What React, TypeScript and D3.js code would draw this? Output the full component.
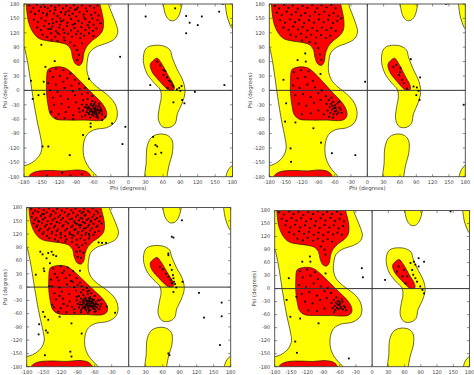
import React from 'react';
import * as d3 from 'd3';

type P = [number, number];

const tickValues = [-180, -150, -120, -90, -60, -30, 0, 30, 60, 90, 120, 150, 180];
const xLabel = 'Phi (degrees)';
const yLabel = 'Psi (degrees)';

// Allowed (yellow) regions, in (phi, psi) degrees
const yellowMain: P[] = [
  [-195, 195], [-33, 195], [-34, 180], [-28, 160], [-21, 138], [-18, 122], [-23, 108], [-36, 99], [-56, 90],
  [-67, 78], [-71, 58], [-71, 38], [-66, 22], [-55, 8], [-44, -2], [-32, -14], [-23, -28], [-19, -44], [-20, -59],
  [-26, -70], [-38, -78], [-58, -82], [-71, -92], [-77, -110], [-77, -136], [-71, -155], [-63, -168], [-54, -180],
  [-52, -195], [-195, -195], [-192, -160], [-176, -156], [-164, -149], [-154, -137], [-149, -120], [-151, -100],
  [-157, -66], [-161, -40], [-166, -3], [-170, 30], [-176, 72], [-181, 92], [-195, 100]
];
const yellowLeftHanded: P[] = [
  [29, 84], [26, 62], [32, 36], [45, 15], [55, 2], [57, -14], [54, -34], [52, -60], [59, -76], [72, -77], [81, -69],
  [85, -48], [93, -27], [98, -4], [95, 18], [84, 45], [76, 68], [72, 84], [62, 92], [48, 94], [35, 91]
];
const yellowTopRight: P[] = [
  [60, 195], [61, 175], [65, 156], [72, 146], [80, 146], [87, 155], [92, 175], [94, 195]
];
const yellowBottomRight: P[] = [
  [31, -195], [31, -150], [33, -115], [41, -97], [55, -91], [68, -94], [76, -105], [76, -132], [71, -153], [67, -180], [67, -195]
];
const yellowEdgeTop: P[] = [
  [167, 195], [168, 175], [170, 158], [174, 142], [180, 128], [192, 122], [198, 195]
];
const yellowEdgeBottom: P[] = [
  [168, -195], [169, -178], [173, -165], [180, -156], [192, -150], [198, -195]
];

// Core (red) regions
const redBeta: P[] = [
  [-177, 195], [-176, 180], [-175, 164], [-172, 142], [-165, 122], [-154, 108], [-138, 103], [-120, 100], [-106, 95],
  [-99, 85], [-96, 68], [-91, 55], [-84, 52], [-79, 60], [-77, 76], [-72, 91], [-62, 104], [-51, 114], [-44, 126],
  [-43, 146], [-46, 165], [-49, 180], [-50, 195]
];
const redBetaBottom: P[] = [
  [-173, -195], [-171, -178], [-161, -170], [-140, -167], [-110, -168], [-86, -166], [-71, -170], [-64, -180], [-63, -195]
];
const redAlpha: P[] = [
  [-138, 44], [-123, 49], [-108, 46], [-97, 36], [-77, 12], [-60, -9], [-46, -26], [-38, -43], [-38, -55], [-45, -62],
  [-77, -62], [-105, -62], [-125, -60], [-134, -51], [-138, -34], [-141, -6], [-141, 21], [-140, 38]
];
const redLeftHanded: P[] = [
  [38, 54], [42, 61], [50, 67], [57, 57], [70, 29], [78, 12], [79, 2], [70, 1], [55, 18], [41, 39]
];

// Residues, panel 1 (top left)
const residues1: P[] = [
  [-171, 177], [-164, 172], [-158, 178], [-151, 174], [-146, 179], [-139, 171], [-133, 176], [-126, 173], [-120, 178], [-113, 171],
  [-107, 176], [-100, 172], [-94, 178], [-87, 173], [-80, 177], [-73, 171], [-66, 176], [-59, 172], [-53, 177],
  [-168, 164], [-161, 159], [-154, 166], [-147, 161], [-141, 156], [-135, 165], [-128, 160], [-122, 155], [-116, 163], [-109, 158],
  [-103, 166], [-96, 160], [-90, 154], [-84, 163], [-77, 158], [-71, 165], [-64, 157], [-57, 162], [-51, 156],
  [-163, 147], [-156, 142], [-150, 150], [-143, 145], [-137, 139], [-131, 148], [-124, 143], [-118, 137], [-112, 146], [-105, 141],
  [-99, 149], [-92, 139], [-86, 145], [-80, 140], [-74, 148], [-67, 142], [-60, 137], [-53, 146], [-48, 140],
  [-157, 131], [-151, 126], [-145, 134], [-138, 128], [-131, 133], [-125, 124], [-119, 131], [-112, 127], [-106, 134], [-99, 125],
  [-93, 130], [-87, 123], [-81, 132], [-74, 126], [-68, 131], [-61, 124], [-55, 129],
  [-148, 116], [-140, 111], [-133, 119], [-126, 112], [-119, 117], [-111, 110], [-104, 118], [-97, 112], [-90, 117], [-83, 109],
  [-76, 114], [-68, 119], [-60, 113], [-132, 105], [-122, 103], [-110, 104], [-100, 100], [-93, 93], [-88, 84], [-85, 74],
  [-88, 63], [-80, 98], [-126, 168], [-118, 150], [-108, 163], [-96, 137], [-89, 170], [-76, 152], [-140, 160], [-110, 120],
  [-130, 140], [-82, 118], [-144, 174], [-116, 144], [-102, 156], [-92, 168], [-70, 136], [-62, 150], [-134, 128], [-122, 120],
  [-135, 40], [-125, 45], [-112, 42], [-100, 35], [-130, 28], [-118, 30], [-105, 25], [-92, 22], [-138, 15], [-125, 12],
  [-112, 18], [-98, 10], [-85, 14], [-135, 0], [-122, -3], [-110, 5], [-96, -2], [-84, 3], [-75, 5], [-130, -15],
  [-117, -12], [-104, -18], [-92, -10], [-80, -8], [-70, -5], [-62, -12], [-128, -30], [-115, -28], [-103, -35], [-90, -25],
  [-78, -20], [-133, -45], [-120, -50], [-108, -45], [-95, -52], [-85, -38], [-125, -57], [-110, -58], [-95, -60], [-80, -55],
  [-72, -30], [-68, -35], [-64, -28], [-60, -38], [-56, -32], [-52, -42], [-48, -36], [-66, -44], [-62, -48], [-58, -45],
  [-54, -50], [-50, -47], [-70, -40], [-64, -40], [-58, -40], [-53, -38], [-46, -44], [-60, -53], [-55, -55], [-68, -50],
  [-72, -45], [-75, -35], [-62, -22], [-57, -25], [-50, -28], [-45, -50], [-66, -57], [-74, -52], [-78, -42], [-80, -30],
  [-70, -18], [-84, -45], [-52, -58], [-47, -40], [-61, -33], [-67, -38], [-55, -46], [-59, -29], [-63, -43], [-57, -36],
  [-65, -31], [-61, -45], [-56, -41], [-51, -33], [-69, -47], [-63, -51], [-58, -49], [-53, -53], [-49, -42], [-71, -36],
  [-168, 20], [-165, -18], [-155, -10], [-145, -8], [-127, 61], [-143, 49], [-146, 18], [-150, 95], [-65, -69], [-65, -76],
  [-45, -62], [-68, 24], [-28, -69], [-78, -93], [-101, -135], [-138, -117], [-148, -117], [-40, -55],
  [-140, -178], [-114, -172], [-100, -177], [-80, -175],
  [30, 154], [81, 171], [100, 155], [106, 141], [127, 154], [120, 136], [100, 119], [157, 164], [163, 180], [180, 136],
  [166, 11], [38, 11], [-14, 70], [-5, -76], [-10, -112], [92, 9], [90, -1], [93, -20], [97, -27], [78, -25], [115, -3],
  [50, 60], [55, 52], [61, 42], [64, 40], [61, 32], [67, 27], [73, 18], [75, 12], [70, 20], [78, 8], [68, 5], [84, 2], [88, 5],
  [43, -97], [47, -114], [50, -117], [47, -133], [57, -130]
];

// Residues, panel 2 (top right)
const residues2: P[] = [
  [-170, 176], [-162, 171], [-153, 178], [-145, 172], [-137, 177], [-128, 170], [-119, 176], [-110, 172], [-101, 178], [-92, 171],
  [-84, 177], [-75, 173], [-66, 178], [-58, 171],
  [-166, 162], [-157, 157], [-148, 164], [-139, 158], [-131, 163], [-122, 156], [-114, 161], [-105, 155], [-96, 163], [-88, 158],
  [-79, 164], [-70, 156], [-62, 161], [-54, 155],
  [-160, 146], [-151, 141], [-142, 148], [-133, 142], [-125, 147], [-116, 140], [-107, 146], [-98, 141], [-89, 148], [-80, 142],
  [-72, 147], [-63, 140], [-55, 145], [-48, 150],
  [-154, 131], [-145, 126], [-136, 133], [-127, 127], [-119, 132], [-110, 125], [-101, 130], [-92, 124], [-83, 131], [-75, 126],
  [-66, 130], [-58, 124],
  [-141, 116], [-131, 112], [-122, 118], [-112, 111], [-103, 116], [-94, 110], [-85, 115], [-76, 109], [-68, 114],
  [-120, 104], [-106, 101], [-95, 98], [-90, 88], [-87, 75], [-84, 64],
  [-114, 77], [-113, 60], [-128, 63], [-86, 34], [-154, 22], [-149, -27], [-151, -65], [-132, -67], [-141, -121], [-140, -149],
  [-99, -79], [-85, -109], [-65, -131], [-22, -135], [-4, 18],
  [-135, 38], [-122, 42], [-108, 40], [-128, 25], [-114, 28], [-100, 20], [-136, 10], [-124, 5], [-110, 12], [-96, 6],
  [-84, 0], [-132, -10], [-118, -8], [-104, -14], [-90, -6], [-76, -12], [-126, -28], [-112, -32], [-98, -26], [-86, -20],
  [-120, -50], [-104, -48], [-90, -42], [-80, -50],
  [-71, -20], [-67, -28], [-63, -24], [-59, -31], [-55, -27], [-51, -36], [-69, -35], [-65, -40], [-61, -37], [-57, -42],
  [-53, -46], [-49, -40], [-73, -42], [-68, -47], [-62, -50], [-56, -50], [-60, -44], [-64, -32], [-58, -36], [-66, -15],
  [-75, -28], [-52, -24], [-47, -47], [-70, -55], [-63, -57],
  [80, 65], [97, 27], [91, 6], [94, -1], [90, -10], [96, -20], [85, 8], [177, -30], [145, 180],
  [48, 49], [53, 53], [61, 46], [58, 32], [64, 22], [67, 15], [73, 4], [60, 38]
];

// Residues, panel 3 (bottom left)
const residues3: P[] = [
  [-172, 177], [-165, 173], [-158, 179], [-150, 174], [-141, 178], [-133, 172], [-126, 177], [-118, 173], [-109, 179], [-101, 174],
  [-94, 178], [-86, 172], [-79, 177], [-72, 173], [-64, 178], [-57, 172],
  [-169, 167], [-160, 170], [-153, 165], [-145, 169], [-137, 164], [-129, 168], [-121, 163], [-113, 169], [-106, 165], [-98, 168],
  [-90, 163], [-83, 167], [-76, 164], [-69, 169], [-61, 164], [-54, 168],
  [-171, 159], [-163, 156], [-155, 161], [-148, 157], [-139, 160], [-131, 155], [-124, 159], [-116, 156], [-108, 161], [-100, 155],
  [-93, 159], [-85, 157], [-78, 161], [-71, 155], [-64, 159], [-56, 156], [-50, 160],
  [-166, 152], [-158, 148], [-151, 153], [-143, 149], [-135, 151], [-127, 147], [-119, 152], [-111, 148], [-104, 153], [-96, 149],
  [-88, 151], [-81, 147], [-74, 152], [-67, 148], [-59, 153], [-52, 149],
  [-168, 144], [-161, 140], [-153, 145], [-145, 141], [-137, 143], [-130, 139], [-122, 145], [-115, 140], [-107, 144], [-99, 139],
  [-92, 143], [-84, 140], [-77, 145], [-70, 141], [-62, 143], [-55, 139], [-48, 144],
  [-163, 136], [-156, 132], [-148, 137], [-140, 133], [-132, 135], [-125, 131], [-117, 137], [-109, 132], [-101, 136], [-94, 131],
  [-86, 135], [-79, 132], [-72, 137], [-65, 133], [-57, 136],
  [-158, 128], [-150, 124], [-143, 129], [-135, 125], [-127, 127], [-120, 123], [-112, 128], [-104, 124], [-96, 129], [-89, 125],
  [-82, 127], [-75, 123], [-68, 128], [-60, 124], [-53, 127],
  [-152, 120], [-144, 116], [-136, 121], [-128, 117], [-120, 119], [-112, 115], [-104, 120], [-97, 116], [-90, 121], [-83, 117],
  [-76, 119], [-69, 115], [-62, 118],
  [-140, 111], [-130, 108], [-120, 112], [-110, 108], [-100, 111], [-92, 107], [-85, 110], [-78, 106], [-70, 110],
  [-125, 104], [-112, 103], [-100, 102], [-92, 96], [-88, 90], [-82, 95], [-76, 99], [-92, 80], [-86, 82], [-80, 78], [-90, 68], [-84, 66],
  [-88, 140], [-82, 155], [-76, 134], [-70, 120], [-95, 145], [-100, 118], [-80, 170], [-66, 150], [-150, 165], [-160, 150],
  [-156, 80], [-152, 74], [-142, 77], [-133, 73], [-136, 80], [-128, 70], [-145, 65], [-150, 42], [-149, 36], [-86, 37],
  [-53, 101], [-47, 100], [-40, 100], [-164, 28], [-139, 54],
  [-148, -67], [-142, -74], [-146, -98], [-143, -103], [-158, -84], [-148, -154], [-103, -146], [-101, -157], [-83, -105],
  [-101, -82], [-122, -67], [-151, -56], [-50, -29], [-39, -44], [-24, -58], [-159, -107], [-135, -40], [-140, 2],
  [-133, 42], [-120, 47], [-108, 44], [-98, 36], [-130, 30], [-117, 32], [-104, 27], [-92, 20], [-137, 17], [-124, 15],
  [-111, 20], [-99, 12], [-86, 10], [-135, 2], [-122, -1], [-109, 6], [-96, 0], [-83, 2], [-74, -2], [-131, -14],
  [-118, -10], [-105, -16], [-93, -8], [-80, -6], [-70, -8], [-128, -28], [-116, -26], [-104, -32], [-92, -22], [-132, -46],
  [-120, -48], [-108, -42], [-96, -50], [-124, -56], [-110, -57], [-96, -58], [-84, -57], [-72, -58], [-60, -56], [-114, 37],
  [-126, 22], [-102, 14], [-90, 5], [-115, -38], [-122, -20], [-100, -45],
  [-88, -20], [-84, -26], [-80, -18], [-76, -24], [-72, -16], [-68, -22], [-64, -28], [-60, -20], [-86, -34], [-82, -40],
  [-78, -32], [-74, -38], [-70, -30], [-66, -36], [-62, -42], [-58, -34], [-54, -40], [-88, -46], [-84, -52], [-80, -44],
  [-76, -50], [-72, -46], [-68, -52], [-64, -48], [-60, -50], [-56, -46], [-52, -50], [-75, -28], [-71, -42], [-67, -26],
  [-63, -35], [-59, -44], [-79, -37], [-73, -33], [-69, -39], [-65, -43], [-61, -29], [-77, -45], [-81, -30], [-57, -38],
  [-66, -14], [-73, -10], [-84, -12], [-54, -30], [-50, -44], [-48, -38], [-90, -38], [-92, -30], [-70, -54], [-58, -54],
  [-86, -40], [-74, -42], [-62, -38], [-68, -44], [-78, -26], [-82, -48], [-66, -32], [-72, -36], [-76, -40], [-64, -34],
  [-70, -25], [-74, -31], [-78, -47], [-67, -41], [-63, -46], [-59, -39], [-71, -49], [-81, -35], [-75, -53], [-69, -33],
  [76, 114], [79, 112], [94, 151], [124, -13], [133, -69], [164, -35], [164, -66], [161, -131], [72, -154], [70, -150],
  [70, 76], [70, 72], [73, 50], [76, 39], [78, 27], [79, 20], [80, 12], [82, 7], [76, 9], [84, -1], [79, -11], [70, 23],
  [74, 16], [95, 12], [60, 40], [55, 45], [66, 30]
];

// Residues, panel 4 (bottom right)
const residues4: P[] = [
  [-172, 176], [-163, 171], [-154, 178], [-145, 172], [-136, 177], [-127, 170], [-118, 176], [-109, 172], [-100, 178], [-91, 171],
  [-83, 177], [-74, 172], [-65, 178], [-58, 171],
  [-167, 161], [-158, 156], [-149, 163], [-140, 157], [-131, 162], [-122, 155], [-113, 160], [-104, 155], [-95, 162], [-86, 157],
  [-77, 163], [-69, 156], [-60, 161], [-52, 155],
  [-160, 146], [-151, 141], [-142, 147], [-133, 141], [-124, 146], [-115, 140], [-106, 145], [-97, 140], [-88, 147], [-79, 141],
  [-71, 146], [-62, 139], [-54, 144],
  [-153, 130], [-144, 125], [-135, 132], [-126, 126], [-117, 131], [-108, 124], [-99, 129], [-90, 123], [-81, 130], [-72, 125],
  [-64, 129], [-56, 124],
  [-138, 115], [-128, 111], [-119, 117], [-109, 110], [-100, 115], [-91, 109], [-82, 114], [-74, 108], [-95, 97], [-88, 90], [-86, 78],
  [-129, 62], [-114, 62], [-115, 74], [-86, 35], [-154, 24], [-158, -26], [-151, -65], [-133, -69], [-140, -19], [-142, -122],
  [-139, -148], [-99, -80], [-19, 47], [-17, 26], [-43, -161], [145, 178], [24, 20],
  [-133, 40], [-120, 44], [-106, 38], [-128, 26], [-114, 30], [-100, 22], [-135, 8], [-122, 4], [-108, 12], [-95, 5],
  [-82, 2], [-130, -12], [-116, -8], [-102, -16], [-88, -6], [-76, -10], [-124, -30], [-110, -34], [-96, -26], [-84, -22],
  [-118, -50], [-102, -52], [-88, -46],
  [-71, -26], [-67, -32], [-63, -28], [-59, -35], [-55, -30], [-52, -40], [-69, -40], [-65, -44], [-61, -38], [-57, -45],
  [-54, -48], [-50, -43], [-73, -45], [-68, -49], [-62, -47], [-58, -42], [-64, -36], [-60, -31], [-66, -20], [-75, -33],
  [-56, -25], [-48, -50], [-70, -54],
  [86, 70], [77, 62], [71, 59], [80, 55], [86, 51], [96, 62], [74, 43], [76, 32], [80, 24], [83, 16], [89, 5], [93, -3],
  [96, -11], [49, 51], [59, 43], [56, 28], [65, 28], [46, 39], [62, 12]
];

const W = 474;
const H = 375;

const PANELS = [
  { x0: 24, x1: 232.5, y0: 4, y1: 176.7, ylab: 5, pts: residues1 },
  { x0: 269.3, x1: 465.3, y0: 4, y1: 176.7, ylab: 250, pts: residues2 },
  { x0: 26.7, x1: 230.7, y0: 207.5, y1: 366.7, ylab: 5, pts: residues3 },
  { x0: 274.7, x1: 469.5, y0: 210.5, y1: 366.7, ylab: 254, pts: residues4 },
];

const yellowShapes = [yellowMain, yellowLeftHanded, yellowTopRight, yellowBottomRight, yellowEdgeTop, yellowEdgeBottom];
const redShapes = [redBeta, redBetaBottom, redAlpha, redLeftHanded];

const FONT = '"DejaVu Sans", sans-serif';

function Panel({ cfg, idx }: { cfg: typeof PANELS[number]; idx: number }) {
  const x = d3.scaleLinear().domain([-180, 180]).range([cfg.x0, cfg.x1]);
  const y = d3.scaleLinear().domain([-180, 180]).range([cfg.y1, cfg.y0]);
  const line = d3
    .line<P>()
    .x((d) => x(d[0]))
    .y((d) => y(d[1]))
    .curve(d3.curveCatmullRomClosed.alpha(0.5));
  const clipId = `clip${idx}`;
  const tl = 2.5;
  const xLabelY = cfg.y1 + 13.5;
  return (
    <g>
      <defs>
        <clipPath id={clipId}>
          <rect x={cfg.x0} y={cfg.y0} width={cfg.x1 - cfg.x0} height={cfg.y1 - cfg.y0} />
        </clipPath>
      </defs>
      <rect x={cfg.x0} y={cfg.y0} width={cfg.x1 - cfg.x0} height={cfg.y1 - cfg.y0} fill="#fff" />
      <g clipPath={`url(#${clipId})`}>
        {yellowShapes.map((s, i) => (
          <path key={'y' + i} d={line(s) || ''} fill="#ffff00" stroke="#2a2a10" strokeWidth={0.7} />
        ))}
        {redShapes.map((s, i) => (
          <path key={'r' + i} d={line(s) || ''} fill="#ff0000" stroke="#2a1010" strokeWidth={0.7} />
        ))}
        <line x1={x(0)} x2={x(0)} y1={cfg.y0} y2={cfg.y1} stroke="#333" strokeWidth={1} />
        <line x1={cfg.x0} x2={cfg.x1} y1={y(0)} y2={y(0)} stroke="#333" strokeWidth={1} />
        {cfg.pts.map((p, i) => (
          <rect key={'p' + i} x={x(p[0]) - 0.9} y={y(p[1]) - 0.9} width={1.8} height={1.8} fill="#000" />
        ))}
      </g>
      <rect x={cfg.x0} y={cfg.y0} width={cfg.x1 - cfg.x0} height={cfg.y1 - cfg.y0} fill="none" stroke="#444" strokeWidth={0.9} />
      {tickValues.map((t) => (
        <g key={'t' + t}>
          <line x1={x(t)} x2={x(t)} y1={cfg.y1} y2={cfg.y1 - tl} stroke="#444" strokeWidth={0.6} />
          <line x1={x(t)} x2={x(t)} y1={cfg.y0} y2={cfg.y0 + tl} stroke="#444" strokeWidth={0.6} />
          <line x1={cfg.x0} x2={cfg.x0 + tl} y1={y(t)} y2={y(t)} stroke="#444" strokeWidth={0.6} />
          <line x1={cfg.x1} x2={cfg.x1 - tl} y1={y(t)} y2={y(t)} stroke="#444" strokeWidth={0.6} />
          <text x={x(t)} y={Math.min(cfg.y1 + 7.3, H - 1)} fontSize={5} textAnchor="middle" fill="#444" fontFamily={FONT}>
            {t}
          </text>
          <text x={cfg.x0 - 4.5} y={y(t) + 1.8} fontSize={5} textAnchor="end" fill="#444" fontFamily={FONT}>
            {t}
          </text>
        </g>
      ))}
      {xLabelY < H && (
        <text x={(cfg.x0 + cfg.x1) / 2} y={xLabelY} fontSize={5.5} textAnchor="middle" fill="#444" fontFamily={FONT}>
          {xLabel}
        </text>
      )}
      <text
        transform={`translate(${cfg.ylab + 2},${(cfg.y0 + cfg.y1) / 2}) rotate(-90)`}
        fontSize={5.5}
        textAnchor="middle"
        fill="#444"
        fontFamily={FONT}
      >
        {yLabel}
      </text>
    </g>
  );
}

export default function App() {
  return (
    <svg width={W} height={H} style={{ position: 'absolute', left: 0, top: 0, background: '#fff' }}>
      {PANELS.map((p, i) => (
        <Panel key={i} cfg={p} idx={i} />
      ))}
    </svg>
  );
}
